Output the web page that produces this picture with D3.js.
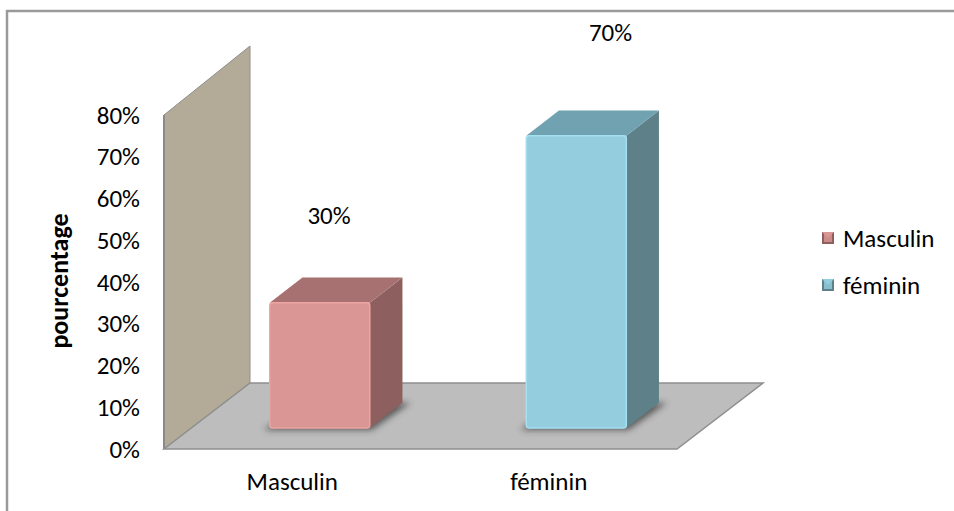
<!DOCTYPE html>
<html>
<head>
<meta charset="utf-8">
<script src="https://cdn.jsdelivr.net/npm/d3@7"></script>
<style>
  body { margin: 0; background: #fff; }
  svg text { font-family: Carlito, Lato, "Open Sans", sans-serif; fill: #000; }
  .axis text { font-size: 25px; }
  .axis path, .axis line { display: none; }
</style>
</head>
<body>
<div class="chart"></div>
<script>
// données
const categories = ["Masculin", "féminin"];
const values = [30, 70];
const yTicks = [0, 10, 20, 30, 40, 50, 60, 70, 80];

// couleurs: face, dessus, côté
const palette = [
  { front: "#d99694", top: "#a87171", side: "#8d5f5e" },
  { front: "#94cddd", top: "#70a2b1", side: "#5e8189" }
];

const width = 954, height = 511;
const plotLeft = 164, plotRight = 677, plotBase = 449, plotTop = 115;
const depthX = 86, depthY = -66;      // vecteur de profondeur (oblique)
const z0 = 0.32, z1 = 0.70;          // profondeur des barres

const svg = d3.select(".chart").append("svg")
  .attr("width", width).attr("height", height);

const defs = svg.append("defs");
defs.append("filter").attr("id", "blur")
  .attr("x", "-30%").attr("y", "-30%").attr("width", "160%").attr("height", "160%")
  .append("feGaussianBlur").attr("stdDeviation", 3);

const x = d3.scaleBand().domain(categories).range([plotLeft, plotRight]);
const y = d3.scaleLinear().domain([0, 80]).range([plotBase, plotTop]);

// projection 3D -> écran
const proj = (px, py, z) => [px + z * depthX, py + z * depthY];
const poly = pts => "M" + pts.map(p => p.join(",")).join("L") + "Z";

// cadre
svg.append("path")
  .attr("d", `M7,${height + 5}L7,11L${width + 5},11`)
  .attr("fill", "none").attr("stroke", "#9a9a9a").attr("stroke-width", 2.5);

// mur gauche
svg.append("path")
  .attr("d", poly([proj(plotLeft, y(0), 0), proj(plotLeft, y(80), 0), proj(plotLeft, y(80) - 3, 1), proj(plotLeft, y(0), 1)]))
  .attr("fill", "#b3ab98").attr("stroke", "#8e8e8e").attr("stroke-width", 1);
svg.append("line")
  .attr("x1", plotLeft).attr("x2", plotLeft).attr("y1", y(80)).attr("y2", y(0))
  .attr("stroke", "#8a8a8a").attr("stroke-width", 2);

// sol
svg.append("path")
  .attr("d", poly([proj(plotLeft, plotBase, 0), proj(plotRight, plotBase, 0), proj(plotRight, plotBase, 1), proj(plotLeft, plotBase, 1)]))
  .attr("fill", "#bdbdbd").attr("stroke", "#8f8f8f").attr("stroke-width", 1.5);

const barW = x.bandwidth() * 0.39;
const bars = svg.append("g").attr("class", "bars");

categories.forEach((c, i) => {
  const cx = x(c) + x.bandwidth() / 2;
  const x0 = cx - barW / 2, x1 = cx + barW / 2;
  const yv = y(values[i]), y0 = y(0);
  const col = palette[i];
  const g = bars.append("g");

  // ombre
  g.append("path")
    .attr("d", poly([proj(x0 - 6, y0 + 2, z0), proj(x1 + 2, y0 + 2, z0), proj(x1 + 8, y0, z1), proj(x0, y0, z1)]))
    .attr("fill", "#3a3a3a").attr("opacity", 0.75).attr("filter", "url(#blur)");

  // côté droit
  g.append("path")
    .attr("d", poly([proj(x1, y0, z0), proj(x1, yv, z0), proj(x1, yv, z1), proj(x1, y0, z1)]))
    .attr("fill", col.side);

  // dessus
  g.append("path")
    .attr("d", poly([proj(x0, yv, z0), proj(x1, yv, z0), proj(x1, yv, z1), proj(x0, yv, z1)]))
    .attr("fill", col.top);

  // face avant
  const f = proj(x0, yv, z0);
  g.append("rect")
    .attr("x", f[0]).attr("y", f[1])
    .attr("width", barW).attr("height", y0 - yv)
    .attr("rx", 3)
    .attr("fill", col.front)
    .attr("stroke", d3.color(col.front).brighter(0.25)).attr("stroke-width", 1.5);

  // étiquette de valeur (placée au-dessus, comme Excel 3D)
  svg.append("text")
    .attr("x", cx + 18 + values[i] * 0.625)
    .attr("y", yv - (88 + values[i] * 0.4))
    .attr("text-anchor", "middle")
    .style("font-size", "25px")
    .text(values[i] + "%");
});

// axe Y
svg.append("g").attr("class", "axis")
  .attr("transform", `translate(${plotLeft},0)`)
  .call(d3.axisLeft(y).tickValues(yTicks).tickSize(0).tickPadding(24).tickFormat(d => d + "%"));

// axe X
svg.append("g").attr("class", "axis")
  .attr("transform", `translate(0,${plotBase})`)
  .call(d3.axisBottom(x).tickSize(0).tickPadding(23));

// titre de l'axe
svg.append("text")
  .attr("transform", "translate(68,281) rotate(-90)")
  .attr("text-anchor", "middle")
  .style("font-size", "26px").style("font-weight", "bold")
  .text("pourcentage");

// légende
const legend = svg.append("g").attr("class", "legend");
categories.forEach((c, i) => {
  const ly = 238 + i * 47;
  const col = palette[i];
  const s = 12, lx = 822;
  legend.append("rect").attr("x", lx).attr("y", ly - s / 2).attr("width", s).attr("height", s)
    .attr("fill", col.side);
  legend.append("path")
    .attr("d", `M${lx},${ly - s / 2}L${lx + s},${ly - s / 2}L${lx + s / 2},${ly}Z`)
    .attr("fill", col.front);
  legend.append("path")
    .attr("d", `M${lx + 2},${ly - s / 2 + 2}L${lx + s - 2},${ly - s / 2 + 2}L${lx + s - 2},${ly + s / 2 - 2}L${lx + 2},${ly + s / 2 - 2}Z`)
    .attr("fill", col.front).attr("opacity", 0.8);
  legend.append("text").attr("x", 843).attr("y", ly).attr("dy", "0.35em")
    .style("font-size", "25px").text(c);
});
</script>
</body>
</html>
